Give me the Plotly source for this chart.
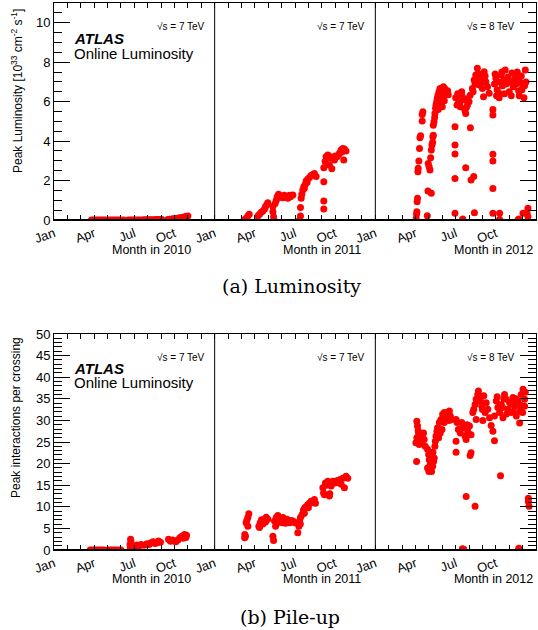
import plotly.graph_objects as go

# ---------------- data (month within year, value) ----------------
lumi_2010 = [(2.8,0.0),(2.95,0.0),(3.1,0.0),(3.25,0.0),(3.4,0.0),(3.55,0.0),(3.7,0.0),(3.85,0.0),
             (4.1,0.0),(4.25,0.0),(4.4,0.0),(4.55,0.0),(4.7,0.0),(4.85,0.0),(5.0,0.0),(5.2,0.0),
             (5.55,0.0),(5.7,0.0),(5.85,0.0),(6.0,0.0),(6.15,0.0),(6.3,0.0),(6.45,0.0),(6.6,0.0),
             (6.75,0.01),(6.9,0.01),(7.05,0.01),(7.2,0.01),(7.35,0.01),(7.5,0.01),(7.65,0.02),
             (7.8,0.02),(7.95,0.02),(8.05,0.02),(8.5,0.03),(8.65,0.04),(8.8,0.05),(8.95,0.06),
             (9.1,0.08),(9.25,0.09),(9.4,0.11),(9.55,0.13),(9.7,0.15),(9.85,0.18),(10.0,0.2)]

lumi_2011 = [(2.29,0.05),(2.39,0.12),(2.48,0.20),(2.58,0.29),
             (3.23,0.20),(3.35,0.29),(3.48,0.39),(3.6,0.46),(3.73,0.56),(3.8,0.68),(3.9,0.79),(3.97,0.88),
             (4.35,0.42),(4.4,0.17),(4.42,0.0),(4.35,0.68),
             (4.52,0.84),(4.6,1.0),(4.67,1.18),(4.77,1.30),(4.92,1.23),(5.09,1.13),(5.27,1.18),(5.47,1.10),
             (5.66,1.18),(5.84,1.27),(5.59,1.25),(4.85,1.15),(5.2,1.25),
             (6.34,0.0),(6.41,0.20),(6.41,0.63),(6.46,1.10),(6.51,1.30),(6.58,1.52),(6.66,1.69),(6.76,1.80),
             (6.83,1.98),(6.96,2.08),(7.08,2.15),(7.2,2.25),(7.33,2.31),(7.45,2.36),(7.58,2.20),(6.7,1.6),(6.9,1.9),
             (8.15,0.56),(8.15,0.96),(8.15,1.94),(8.15,2.65),
             (8.25,2.96),(8.32,3.20),(8.45,3.30),(8.57,2.79),(8.65,3.13),(8.75,2.60),(8.95,3.04),(9.14,3.20),
             (9.32,3.38),(9.44,3.55),(9.57,3.63),(9.64,3.04),(9.69,3.60),(9.81,3.50),(8.55,3.25),(9.0,3.25),
             (9.25,3.3),(9.5,3.45)]

lumi_2012 = [(3.05,0.08),(3.08,0.29),(3.1,0.42),(3.12,0.93),(3.15,1.10),(3.18,2.45),(3.2,2.62),(3.25,2.99),
             (3.3,3.63),(3.33,4.17),(3.38,4.27),(3.5,5.02),(3.5,5.35),(3.55,5.49),
             (3.88,0.22),(3.93,1.47),(4.18,1.35),
             (3.95,2.87),(4.02,2.70),(4.08,2.53),(4.13,3.16),(4.18,3.55),(4.23,3.80),(4.28,3.94),(4.3,4.22),(4.33,4.30),
             (4.33,4.80),(4.38,4.98),(4.43,5.19),(4.45,5.40),(4.5,5.66),(4.53,5.83),(4.58,6.00),(4.63,6.17),
             (4.68,6.33),(4.75,6.50),(4.83,6.67),(4.9,6.20),(5.0,6.60),(5.08,6.76),(5.18,6.67),(5.25,6.42),
             (5.33,6.50),(5.0,5.74),(4.83,5.90),(5.1,6.30),(5.4,6.55),(5.45,6.35),(4.7,5.60),(5.15,6.05),
             (5.95,4.73),(5.95,3.80),(5.95,3.34),(5.95,2.11),(5.95,0.34),(6.5,0.0),(6.53,0.05),(6.75,2.65),
             (7.1,4.68),(7.15,2.03),(7.35,2.20),(7.4,0.37),
             (6.0,6.20),(6.1,5.83),(6.23,6.00),(6.35,5.74),(6.5,6.25),(6.58,6.10),(6.68,5.57),(6.75,5.40),
             (6.88,5.83),(7.0,6.00),(7.08,6.33),(6.3,5.90),(6.8,5.70),(6.9,6.15),(6.15,6.40),(6.45,6.50),
             (7.25,6.67),(7.38,7.10),(7.5,7.35),(7.62,7.69),(7.68,7.43),(7.75,6.84),(7.88,7.18),(8.0,6.67),
             (8.13,7.52),(8.25,7.01),(8.08,6.25),(8.5,6.42),(8.38,6.76),(7.45,6.90),(7.8,7.30),(7.95,7.00),
             (8.2,7.30),(7.55,7.00),(7.3,6.50),
             (8.78,5.60),(8.78,5.32),(8.78,3.33),(8.78,2.99),(8.78,1.60),(8.78,0.34),(9.28,0.34),(9.28,0.03),
             (8.9,6.90),(9.0,7.20),(9.1,6.60),(9.2,7.00),(9.3,6.40),(9.4,7.35),(9.5,6.80),(9.6,7.10),(9.7,7.60),
             (9.8,6.90),(9.9,7.25),(10.0,6.50),(10.1,7.00),(10.2,7.45),(10.3,6.75),(10.4,7.15),(10.5,6.90),
             (10.6,7.50),(10.7,6.55),(10.8,7.00),(10.9,7.30),(11.0,6.80),(11.1,6.20),(11.2,7.60),(11.25,7.00),
             (9.05,6.30),(9.25,6.20),(9.65,6.40),(10.15,6.30),(10.75,6.30),(8.95,7.40),(9.45,7.50),(10.55,7.20),
             (10.95,6.60),(11.15,6.80),
             (10.65,0.0),(10.72,0.05),(11.03,0.34),(11.33,0.34),(11.4,0.60),(11.4,0.17)]

pileup_2010 = [(2.7,0.0),(2.85,0.0),(3.0,0.0),(3.15,0.0),(3.3,0.0),(3.45,0.0),(3.6,0.0),(3.75,0.0),
               (4.05,0.0),(4.2,0.0),(4.35,0.0),(4.5,0.0),(4.65,0.0),(4.85,0.0),(5.0,0.0),
               (5.68,1.3),(5.72,2.5),(5.75,1.9),(5.7,0.6),(5.8,1.0),(5.9,0.9),(6.05,0.7),(6.2,1.15),(6.35,0.9),
               (6.5,1.3),(6.7,1.1),(6.85,1.2),(6.95,1.45),(7.1,1.3),(7.2,1.6),(7.4,1.9),(7.55,1.5),(7.7,1.7),
               (7.8,2.1),(7.95,1.8),
               (8.55,2.5),(8.7,2.0),(8.85,2.3),(9.0,2.1),(9.1,1.9),(9.25,2.3),(9.4,2.85),(9.55,3.2),(9.65,2.7),
               (9.75,3.6),(9.85,2.9),(9.9,3.4)]

pileup_2011 = [(2.24,2.85),(2.25,3.6),(2.35,6.3),(2.48,7.5),(2.55,8.4),(2.48,5.5),(2.3,3.2),(2.4,6.8),
               (3.3,5.5),(3.4,6.3),(3.55,6.7),(3.72,7.1),(3.85,7.6),(3.97,7.1),(3.6,6.0),(3.35,5.2),(3.5,7.0),(3.8,6.5),
               (4.35,3.2),(4.4,2.2),
               (4.47,6.7),(4.6,7.5),(4.72,8.0),(4.9,7.1),(5.05,6.3),(5.22,6.7),(5.4,7.1),(5.6,6.3),(5.84,6.7),
               (5.97,6.3),(4.55,5.5),(5.1,7.5),(4.65,6.2),(5.3,6.2),(5.7,6.8),
               (6.21,4.0),(6.29,5.5),(6.34,6.7),(6.41,7.5),(6.54,8.2),(6.63,9.2),(6.73,9.8),(6.83,10.0),(6.95,10.5),
               (7.08,10.8),(7.2,11.3),(7.33,11.0),(7.45,11.7),(7.53,10.8),(6.4,6.0),(6.7,8.5),(7.0,9.8),
               (8.08,14.4),(8.13,13.2),(8.2,12.8),(8.27,15.5),(8.45,15.9),(8.57,12.5),(8.7,14.8),(8.83,15.9),
               (9.02,15.5),(9.2,16.1),(9.37,16.3),(9.45,15.2),(9.57,16.6),(9.69,14.4),(9.81,17.1),(9.94,16.6),
               (8.35,15.0),(8.6,13.0),(9.1,16.0)]

pileup_2012 = [(3.1,29.8),(3.15,28.7),(3.23,27.1),(3.1,26.0),(3.03,24.8),(3.15,25.2),(3.28,24.4),(3.4,24.8),
               (3.53,26.7),(3.6,27.1),(3.65,25.6),(3.08,20.5),(3.73,24.0),(3.2,27.6),(3.35,26.2),(3.3,25.6),
               (3.9,23.3),(3.98,22.1),(4.03,20.9),(4.1,19.8),(3.9,19.0),(4.2,18.2),(4.28,19.4),(4.35,20.5),
               (4.4,21.3),(4.15,22.0),(4.3,22.6),(4.0,18.2),(4.23,20.0),
               (4.45,24.0),(4.48,25.2),(4.53,26.4),(4.6,27.5),(4.65,28.3),(4.78,29.5),(4.9,30.2),(5.03,31.4),
               (5.15,31.8),(5.28,31.0),(5.4,31.8),(5.53,32.2),(5.6,31.0),(5.7,30.2),(4.85,27.1),(4.98,27.9),
               (5.15,29.5),(4.73,26.0),(5.35,30.5),(5.5,30.0),
               (6.03,30.2),(6.1,29.5),(6.2,27.9),(6.35,27.1),(6.45,29.5),(6.6,28.3),(6.7,26.4),(6.78,25.6),
               (6.9,27.5),(7.03,28.7),(7.15,26.7),(6.03,25.2),(6.03,22.6),(7.15,22.5),(7.08,21.9),(6.78,12.4),
               (7.45,10.1),(6.5,0.3),(6.6,0.2),(6.3,28.0),(6.85,29.0),
               (7.28,31.8),(7.35,32.6),(7.45,33.7),(7.53,34.9),(7.65,36.0),(7.7,36.8),(7.85,34.5),(7.95,33.3),
               (8.1,35.7),(8.2,31.8),(8.28,34.1),(8.4,32.6),(7.53,30.2),(8.03,30.0),(8.53,30.6),(8.65,28.8),
               (8.78,27.5),(8.9,25.3),(7.8,35.5),(8.0,32.5),
               (9.03,34.5),(9.15,33.0),(9.28,31.8),(9.4,33.7),(9.53,30.6),(9.65,36.0),(9.78,34.9),(9.9,32.6),
               (10.03,34.1),(10.15,31.8),(10.28,35.3),(10.4,33.3),(10.53,31.0),(10.65,34.5),(10.78,32.2),
               (10.9,36.0),(11.03,37.2),(11.15,34.9),(11.15,33.3),(10.78,29.4),(8.9,31.0),(9.35,17.2),(9.1,35.5),
               (9.5,33.0),(9.8,31.5),(10.2,33.8),(10.5,35.0),(10.85,33.5),(11.0,31.8),(10.3,32.0),(9.6,35.0),
               (11.2,36.5),
               (10.68,0.0),(10.72,0.4),(11.43,12.0),(11.43,11.2),(11.48,10.1)]

years = [2010, 2011, 2012]
energies = ["7", "7", "8"]
month_labels = ["Jan", "Apr", "Jul", "Oct"]

lumi_series = [lumi_2010, lumi_2011, lumi_2012]
pileup_series = [pileup_2010, pileup_2011, pileup_2012]

W, H = 538, 630
FONT = "Liberation Sans, Arial, sans-serif"
SERIF = "DejaVu Serif, serif"
RED = "#ff0000"

def px_x(p):
    return p / W

def px_y(p):
    return 1 - p / H

fig = go.Figure()

for i, (ser_l, ser_p) in enumerate(zip(lumi_series, pileup_series)):
    off = 12 * i
    fig.add_trace(go.Scatter(x=[off + m for m, v in ser_l], y=[v for m, v in ser_l],
                             mode="markers", marker=dict(color=RED, size=7),
                             xaxis="x", yaxis="y", showlegend=False))
    fig.add_trace(go.Scatter(x=[off + m for m, v in ser_p], y=[v for m, v in ser_p],
                             mode="markers", marker=dict(color=RED, size=7),
                             xaxis="x2", yaxis="y2", showlegend=False))

xdom = [px_x(54), px_x(536)]
top_dom = [px_y(220), px_y(3)]
bot_dom = [px_y(550), px_y(334)]

tickvals = [12 * i + 3 * k for i in range(3) for k in range(4)]
ticktext = month_labels * 3

def xaxis_cfg(anchor):
    return dict(domain=xdom, range=[0, 36], anchor=anchor,
                tickmode="array", tickvals=tickvals, ticktext=ticktext,
                tickangle=-20, ticks="inside", ticklen=5, tickwidth=1, tickcolor="black",
                minor=dict(dtick=1, tick0=0, ticks="inside", ticklen=5, tickcolor="black", showgrid=False),
                showline=True, linecolor="black", linewidth=1, mirror="allticks",
                showgrid=False, zeroline=False, automargin=False,
                tickfont=dict(family=FONT, size=13, color="black"))

def yaxis_cfg(anchor, dom, rng, dtick, mdtick):
    return dict(domain=dom, range=rng, anchor=anchor, dtick=dtick, tick0=0,
                ticks="inside", ticklen=16, tickwidth=1, tickcolor="black",
                minor=dict(dtick=mdtick, tick0=0, ticks="inside", ticklen=8, tickcolor="black", showgrid=False),
                showline=True, linecolor="black", linewidth=1, mirror="allticks",
                showgrid=False, zeroline=False, automargin=False,
                tickfont=dict(family=FONT, size=13, color="black"))

fig.update_layout(
    width=W, height=H,
    margin=dict(l=0, r=0, t=0, b=0),
    paper_bgcolor="white", plot_bgcolor="white",
    xaxis=xaxis_cfg("y"),
    yaxis=yaxis_cfg("x", top_dom, [0, 11], 2, 0.5),
    xaxis2=xaxis_cfg("y2"),
    yaxis2=yaxis_cfg("x2", bot_dom, [0, 50], 5, 1),
    font=dict(family=FONT, color="black"),
)

shapes = []
for xr, yr in (("x", "y"), ("x2", "y2")):
    for sep in (12, 24):
        shapes.append(dict(type="line", xref=xr, yref=yr + " domain", x0=sep, x1=sep, y0=0, y1=1,
                           line=dict(color="black", width=1)))
    shapes.append(dict(type="line", xref=xr + " domain", yref=yr, x0=0, x1=1, y0=0, y1=0,
                       line=dict(color="black", width=2)))
fig.update_layout(shapes=shapes)

ann = []
# y-axis titles
ann.append(dict(text="Peak Luminosity [10<sup>33</sup> cm<sup>-2</sup> s<sup>-1</sup>]",
                x=px_x(17), y=px_y(91), xref="paper", yref="paper", textangle=-90,
                showarrow=False, xanchor="center", yanchor="middle",
                font=dict(family=FONT, size=12)))
ann.append(dict(text="Peak interactions per crossing",
                x=px_x(16), y=px_y(418), xref="paper", yref="paper", textangle=-90,
                showarrow=False, xanchor="center", yanchor="middle",
                font=dict(family=FONT, size=12)))
# ATLAS labels
for yc in (38.5, 368.5):
    ann.append(dict(text="<b><i>ATLAS</i></b>", x=px_x(72), y=px_y(yc), xref="paper", yref="paper",
                    showarrow=False, xanchor="left", yanchor="middle", font=dict(family=FONT, size=15)))
    ann.append(dict(text="Online Luminosity", x=px_x(72), y=px_y(yc + 14.5), xref="paper", yref="paper",
                    showarrow=False, xanchor="left", yanchor="middle", font=dict(family=FONT, size=15)))
# sqrt(s) and Month labels
rights_e = [207, 367, 517]
rights_m = [193, 363, 535]
for i in range(3):
    for yc in (27, 357.5):
        ann.append(dict(text="\u221As = %s TeV" % energies[i], x=px_x(rights_e[i]), y=px_y(yc),
                        xref="paper", yref="paper", showarrow=False, xanchor="right", yanchor="middle",
                        font=dict(family=FONT, size=10)))
    for yc in (250, 579):
        ann.append(dict(text="Month in %d" % years[i], x=px_x(rights_m[i]), y=px_y(yc),
                        xref="paper", yref="paper", showarrow=False, xanchor="right", yanchor="middle",
                        font=dict(family=FONT, size=12.5)))
# captions
ann.append(dict(text="(a) Luminosity", x=px_x(291), y=px_y(286), xref="paper", yref="paper",
                showarrow=False, xanchor="center", yanchor="middle",
                font=dict(family=SERIF, size=19)))
ann.append(dict(text="(b) Pile-up", x=px_x(290), y=px_y(617), xref="paper", yref="paper",
                showarrow=False, xanchor="center", yanchor="middle",
                font=dict(family=SERIF, size=19)))
fig.update_layout(annotations=ann)

fig.write_html("out.html", config={"displayModeBar": False},
               post_script="document.body.style.margin='0';document.body.style.overflow='hidden';")
